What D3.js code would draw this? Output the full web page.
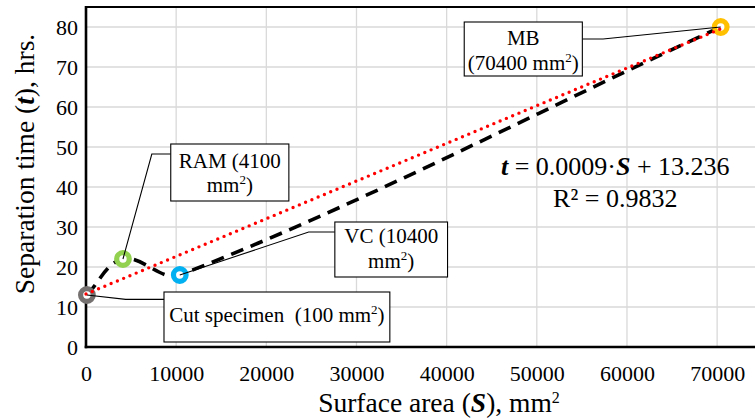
<!DOCTYPE html>
<html>
<head>
<meta charset="utf-8">
<script src="https://cdn.jsdelivr.net/npm/d3@7/dist/d3.min.js"></script>
<style>
  html, body { margin: 0; padding: 0; background: #fff; }
  svg text { font-family: 'Liberation Serif', 'Tinos', 'Times New Roman', Times, 'DejaVu Serif', 'Noto Serif', serif; white-space: pre; }
</style>
</head>
<body>
<svg id="chart" width="755" height="419"></svg>
<script>
// Specimen groups: surface area S (mm²) and separation time t (hrs.)
const specimens = ["Cut specimen", "RAM", "VC", "MB"];
const surfaceArea = [100, 4100, 10400, 70400];
const separationTime = [13, 22, 18, 80];
const markerColors = ["#767171", "#92d050", "#00b0f0", "#ffc000"];

const xTicks = [0, 10000, 20000, 30000, 40000, 50000, 60000, 70000];
const yTicks = [0, 10, 20, 30, 40, 50, 60, 70, 80];

const equationText = { slope: "0.0009", intercept: "13.236", r2: "0.9832" };

const svg = d3.select("#chart");
const W = 755, H = 419;
const margin = { left: 86, right: 0, top: 7, bottom: 72 };

const x = d3.scaleLinear().domain([0, 74200]).range([margin.left, W - margin.right]);
const y = d3.scaleLinear().domain([0, 85]).range([H - margin.bottom, margin.top]);

const pts = surfaceArea.map((s, i) => ({ s, t: separationTime[i], name: specimens[i], color: markerColors[i] }));

// least-squares linear trend of t on S
const mx = d3.mean(surfaceArea), my = d3.mean(separationTime);
const slope = d3.sum(pts, p => (p.s - mx) * (p.t - my)) / d3.sum(pts, p => (p.s - mx) ** 2);
const intercept = my - slope * mx;

// gridlines
const grid = svg.append("g").attr("stroke", "#d9d9d9").attr("stroke-width", 1.3);
grid.selectAll("line.h").data(yTicks.slice(1)).join("line")
  .attr("x1", margin.left).attr("x2", W)
  .attr("y1", d => y(d)).attr("y2", d => y(d));
grid.selectAll("line.v").data(xTicks.slice(1)).join("line")
  .attr("y1", margin.top).attr("y2", y(0))
  .attr("x1", d => x(d)).attr("x2", d => x(d));

// axes
const xAxis = d3.axisBottom(x).tickValues(xTicks).tickSize(0).tickPadding(18).tickFormat(d3.format("d"));
const yAxis = d3.axisLeft(y).tickValues(yTicks).tickSize(0).tickPadding(8).tickFormat(d3.format("d"));

const gx = svg.append("g").attr("transform", `translate(0,${y(0)})`).call(xAxis);
const gy = svg.append("g").attr("transform", `translate(${margin.left},0)`).call(yAxis);
[gx, gy].forEach(g => {
  g.attr("font-family", null);
  g.select(".domain").remove();
  g.selectAll("text").attr("font-size", 22).attr("fill", "#000");
});

// plot frame: top border, left and bottom axis lines
svg.append("line").attr("x1", margin.left).attr("x2", W).attr("y1", margin.top).attr("y2", margin.top)
  .attr("stroke", "#000").attr("stroke-width", 2.2);
svg.append("line").attr("x1", margin.left).attr("x2", margin.left).attr("y1", margin.top - 1).attr("y2", y(0) + 1.3)
  .attr("stroke", "#000").attr("stroke-width", 2.6);
svg.append("line").attr("x1", margin.left - 1.3).attr("x2", W).attr("y1", y(0)).attr("y2", y(0))
  .attr("stroke", "#000").attr("stroke-width", 2.6);

// smoothed connecting line: cubic Bézier segments whose tangents follow the
// neighbouring points and are scaled by each segment's own length
function smoothPath(points) {
  const P = points.map(p => [x(p.s), y(p.t)]);
  const n = P.length;
  const dir = P.map((p, i) => {
    const a = P[Math.max(0, i - 1)], b = P[Math.min(n - 1, i + 1)];
    const dx = b[0] - a[0], dy = b[1] - a[1], len = Math.hypot(dx, dy);
    return [dx / len, dy / len];
  });
  const path = d3.path();
  path.moveTo(P[0][0], P[0][1]);
  for (let i = 0; i < n - 1; i++) {
    const L = Math.hypot(P[i + 1][0] - P[i][0], P[i + 1][1] - P[i][1]) / 3;
    path.bezierCurveTo(
      P[i][0] + dir[i][0] * L, P[i][1] + dir[i][1] * L,
      P[i + 1][0] - dir[i + 1][0] * L, P[i + 1][1] - dir[i + 1][1] * L,
      P[i + 1][0], P[i + 1][1]);
  }
  return path.toString();
}
svg.append("path").attr("d", smoothPath(pts))
  .attr("fill", "none").attr("stroke", "#000").attr("stroke-width", 3.6)
  .attr("stroke-dasharray", "13 8");

// markers
svg.append("g").selectAll("circle").data(pts).join("circle")
  .attr("cx", p => x(p.s)).attr("cy", p => y(p.t)).attr("r", 6.3)
  .attr("fill", "#fff").attr("stroke", p => p.color).attr("stroke-width", 5.2);

// dotted linear trendline
const s0 = 0, s1 = d3.max(surfaceArea);
svg.append("line")
  .attr("x1", x(s0)).attr("y1", y(intercept + slope * s0))
  .attr("x2", x(s1)).attr("y2", y(intercept + slope * s1))
  .attr("stroke", "#ff0000").attr("stroke-width", 3.4).attr("stroke-linecap", "round")
  .attr("stroke-dasharray", "0 6.8");

// callout labels (box corners and elbow points in data units)
const callouts = [
  { i: 1, box: [9400, 50.75, 22500, 36.5], elbow: [7300, 48.25], lines: [["RAM (4100"], ["mm", "2", ")"]], base: [168, 192] },
  { i: 2, box: [27600, 31.25, 40100, 17.5], elbow: [24700, 28.75], lines: [["VC (10400"], ["mm", "2", ")"]], base: [243, 268] },
  { i: 0, box: [8650, 13.75, 33700, 1.25], elbow: [4400, 11.9], lines: [["Cut specimen  (100 mm", "2", ")"]], base: [322] },
  { i: 3, box: [41950, 81.25, 55050, 67.75], elbow: [57350, 77], lines: [["MB"], ["(70400 mm", "2", ")"]], base: [45, 70] }
];

const cg = svg.append("g");
callouts.forEach(c => {
  const p = pts[c.i];
  const [bx0, by0, bx1, by1] = c.box;
  const left = x(bx0), right = x(bx1), top = y(by0), bottom = y(by1);
  const ex = x(c.elbow[0]), ey = y(c.elbow[1]);
  const attachX = ex < left ? left : right;
  cg.append("polyline")
    .attr("points", [[x(p.s), y(p.t)], [ex, ey], [attachX, ey]].map(d => d.join(",")).join(" "))
    .attr("fill", "none").attr("stroke", "#000").attr("stroke-width", 1.1);
  cg.append("rect").attr("x", left).attr("y", top).attr("width", right - left).attr("height", bottom - top)
    .attr("fill", "#fff").attr("stroke", "#000").attr("stroke-width", 1.1);
  c.lines.forEach((parts, li) => {
    const t = cg.append("text").attr("x", (left + right) / 2).attr("y", c.base[li])
      .attr("text-anchor", "middle").attr("font-size", 21).attr("fill", "#000");
    parts.forEach((part, k) => {
      const sup = part === "2";
      t.append("tspan").text(part)
        .attr("font-size", sup ? 13 : 21)
        .attr("dy", sup ? -8 : (k > 0 ? 8 : 0));
    });
  });
});

// regression equation
const eqX = x(58700);
const eq = svg.append("text").attr("x", eqX).attr("y", 175).attr("text-anchor", "middle")
  .attr("font-size", 26).attr("fill", "#000");
eq.append("tspan").text("t").attr("font-weight", "bold").attr("font-style", "italic");
eq.append("tspan").text(` = ${equationText.slope}·`);
eq.append("tspan").text("S").attr("font-weight", "bold").attr("font-style", "italic");
eq.append("tspan").text(` + ${equationText.intercept}`);
svg.append("text").attr("x", eqX).attr("y", 207).attr("text-anchor", "middle")
  .attr("font-size", 26).attr("fill", "#000").text(`R² = ${equationText.r2}`);

// axis titles
const xt = svg.append("text").attr("x", 439).attr("y", 412).attr("text-anchor", "middle")
  .attr("font-size", 27.5).attr("fill", "#000");
xt.append("tspan").text("Surface area (");
xt.append("tspan").text("S").attr("font-weight", "bold").attr("font-style", "italic");
xt.append("tspan").text("), mm");
xt.append("tspan").text("2").attr("font-size", 16).attr("dy", -9);

const yt = svg.append("text").attr("transform", "translate(34,164) rotate(-90)")
  .attr("text-anchor", "middle").attr("font-size", 27.5).attr("fill", "#000");
yt.append("tspan").text("Separation time (");
yt.append("tspan").text("t").attr("font-weight", "bold").attr("font-style", "italic");
yt.append("tspan").text("), hrs.");
</script>
</body>
</html>
